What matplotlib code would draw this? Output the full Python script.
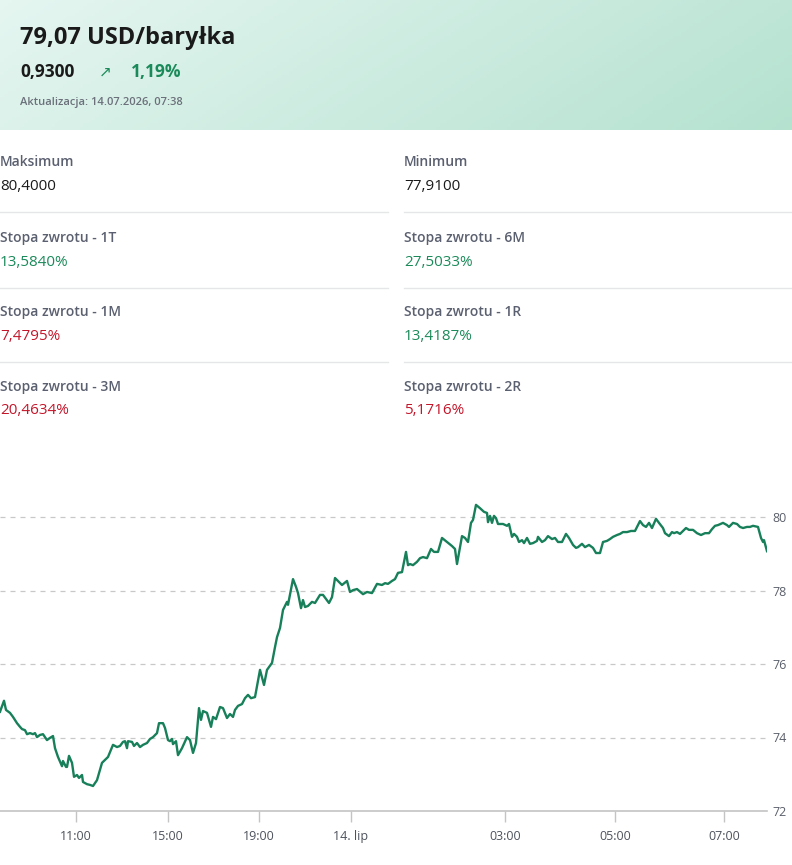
import numpy as np
import matplotlib
matplotlib.use("Agg")
import matplotlib.pyplot as plt

plt.rcParams['font.family'] = ['Open Sans', 'DejaVu Sans']

# naglowek
tytul = "79,07 USD/baryłka"
zmiana_abs = "0,9300"
zmiana_proc = "1,19%"
aktualizacja = "Aktualizacja: 14.07.2026, 07:38"

# statystyki (etykieta, wartosc, kolor)
stat_lewe = [("Maksimum", "80,4000", "black"),
             ("Stopa zwrotu - 1T", "13,5840%", "green"),
             ("Stopa zwrotu - 1M", "7,4795%", "red"),
             ("Stopa zwrotu - 3M", "20,4634%", "red")]
stat_prawe = [("Minimum", "77,9100", "black"),
              ("Stopa zwrotu - 6M", "27,5033%", "green"),
              ("Stopa zwrotu - 1R", "13,4187%", "green"),
              ("Stopa zwrotu - 2R", "5,1716%", "red")]

# notowania - pozycja na osi (os porzadkowa) i cena
pozycja = [0, 4, 6, 10, 13, 17, 20, 22, 25, 27, 30, 33, 35, 37, 40, 43, 47, 50, 53, 55,
           58, 62, 63, 66, 67, 69, 72, 74, 77, 79, 82, 83, 87, 90, 93, 97, 100, 102, 105, 108,
           112, 113, 117, 120, 123, 125, 127, 128, 132, 134, 137, 140, 143, 147, 150, 153, 157, 159, 163, 165,
           168, 170, 172, 173, 176, 178, 182, 187, 190, 193, 196, 199, 201, 203, 207, 211, 213, 216, 220, 223,
           227, 230, 233, 235, 238, 242, 245, 248, 251, 255, 260, 264, 267, 272, 275, 277, 280, 283, 287, 288,
           293, 296, 298, 301, 303, 305, 308, 312, 315, 320, 323, 329, 332, 335, 342, 347, 350, 353, 357, 363,
           367, 372, 377, 382, 385, 388, 392, 395, 398, 402, 406, 408, 410, 413, 417, 420, 423, 427, 431, 434,
           438, 442, 447, 452, 455, 457, 462, 465, 468, 471, 473, 476, 480, 484, 487, 488, 490, 492, 494, 496,
           498, 503, 507, 509, 512, 514, 517, 519, 522, 524, 527, 530, 533, 537, 538, 542, 545, 548, 552, 555,
           558, 562, 566, 569, 573, 576, 578, 582, 585, 589, 593, 596, 600, 603, 607, 610, 613, 617, 620, 623,
           627, 631, 635, 640, 643, 646, 649, 652, 656, 659, 663, 665, 669, 672, 674, 677, 680, 683, 686, 689,
           693, 697, 701, 705, 709, 712, 715, 718, 723, 727, 729, 733, 737, 740, 743, 747, 750, 753, 758, 761,
           763, 764, 767]
cena = [74.70, 75.00, 74.75, 74.67, 74.56, 74.39, 74.29, 74.23, 74.20, 74.09, 74.12, 74.09, 74.12, 74.01, 74.07, 74.09, 73.93, 73.99, 74.04, 73.71,
        73.47, 73.22, 73.36, 73.20, 73.20, 73.50, 73.31, 72.93, 72.98, 72.90, 72.98, 72.79, 72.73, 72.71, 72.68, 72.84, 73.12, 73.31, 73.39, 73.47,
        73.74, 73.80, 73.74, 73.77, 73.88, 73.90, 73.71, 73.90, 73.88, 73.77, 73.85, 73.74, 73.80, 73.85, 73.96, 74.01, 74.12, 74.39, 74.39, 74.26,
        73.93, 73.90, 73.96, 73.82, 73.90, 73.52, 73.71, 74.01, 73.93, 73.58, 73.85, 74.80, 74.48, 74.72, 74.67, 74.29, 74.56, 74.50, 74.83, 74.80,
        74.53, 74.64, 74.56, 74.75, 74.86, 74.91, 75.07, 75.16, 75.07, 75.10, 75.84, 75.43, 75.84, 76.03, 76.46, 76.73, 76.98, 77.47, 77.69, 77.61,
        78.31, 78.10, 77.93, 77.52, 77.74, 77.55, 77.58, 77.69, 77.66, 77.88, 77.88, 77.66, 77.82, 78.34, 78.15, 78.26, 77.96, 78.01, 78.04, 77.90,
        77.96, 77.93, 78.18, 78.15, 78.20, 78.18, 78.26, 78.31, 78.48, 78.50, 79.05, 78.69, 78.72, 78.69, 78.78, 78.88, 78.91, 78.88, 79.13, 79.05,
        79.05, 79.43, 79.32, 79.21, 79.13, 78.72, 79.48, 79.43, 79.32, 79.84, 79.92, 80.33, 80.24, 80.14, 80.11, 79.86, 80.03, 79.84, 80.03, 79.97,
        79.81, 79.81, 79.76, 79.81, 79.46, 79.54, 79.46, 79.32, 79.37, 79.29, 79.43, 79.27, 79.29, 79.35, 79.46, 79.32, 79.37, 79.48, 79.40, 79.43,
        79.32, 79.32, 79.54, 79.43, 79.24, 79.16, 79.18, 79.27, 79.18, 79.24, 79.16, 79.02, 79.02, 79.32, 79.35, 79.40, 79.46, 79.51, 79.54, 79.59,
        79.59, 79.62, 79.62, 79.89, 79.78, 79.73, 79.84, 79.70, 79.95, 79.84, 79.70, 79.56, 79.48, 79.59, 79.56, 79.59, 79.54, 79.62, 79.70, 79.65,
        79.65, 79.56, 79.51, 79.56, 79.56, 79.67, 79.76, 79.78, 79.84, 79.78, 79.73, 79.84, 79.81, 79.73, 79.70, 79.73, 79.73, 79.76, 79.73, 79.43,
        79.32, 79.37, 79.07]

x_etykiety = ["11:00", "15:00", "19:00", "14. lip", "03:00", "05:00", "07:00"]
x_pozycje = [76, 168, 259, 351, 505, 615, 724]
y_ticki = [72, 74, 76, 78, 80]

W, H = 792, 865
ZIELONY = '#1b8a5a'
CZERWONY = '#c4162a'
SZARY = '#5b6070'
LINIA = '#17805a'
kolory = {"black": '#1a1a1a', "green": ZIELONY, "red": CZERWONY}


def fx(px):
    return px / W


def fy(py):
    return 1 - py / H


fig = plt.figure(figsize=(W / 100, H / 100), dpi=100)

# tlo naglowka - gradient
ax_bg = fig.add_axes([0, fy(130), 1, 130 / H])
gx = np.linspace(0, 1, 200)
gy = np.linspace(0, 1, 40)
GX, GY = np.meshgrid(gx, gy)
t = np.clip(0.8 * GX + 0.2 * GY, 0, 1)
c0 = np.array([0.90, 0.965, 0.945])
c1 = np.array([0.71, 0.885, 0.815])
img = c0[None, None, :] * (1 - t[..., None]) + c1[None, None, :] * t[..., None]
ax_bg.imshow(img, aspect='auto', extent=[0, 1, 0, 1], origin='upper')
ax_bg.axis('off')

fig.text(fx(20), fy(38), tytul, fontsize=17, fontweight='bold', color='#1a1a1a', va='center')
fig.text(fx(20), fy(72), zmiana_abs, fontsize=12.5, fontweight='bold', color='#1a1a1a', va='center')
fig.text(fx(99), fy(72), "\u2197", fontsize=11, color=ZIELONY, va='center', family=['DejaVu Sans'])
fig.text(fx(131), fy(72), zmiana_proc, fontsize=12.5, fontweight='bold', color=ZIELONY, va='center')
fig.text(fx(20), fy(102), aktualizacja, fontsize=8, fontweight='semibold', color='#6b707a', va='center')

# statystyki
wiersze_y = [162, 238, 312, 387]
for kol_x, linia_x, dane in [(0, (0, 388), stat_lewe), (404, (404, 792), stat_prawe)]:
    for i, (etyk, wart, kol) in enumerate(dane):
        y0 = wiersze_y[i]
        fig.text(fx(kol_x), fy(y0), etyk, fontsize=10, fontweight='semibold', color=SZARY, va='center')
        fig.text(fx(kol_x), fy(y0 + 24), wart, fontsize=11, fontweight='medium', color=kolory[kol], va='center')
        if i < len(dane) - 1:
            sep = y0 + 50
            fig.add_artist(plt.Line2D([fx(linia_x[0]), fx(linia_x[1])], [fy(sep), fy(sep)],
                                      transform=fig.transFigure, color='#e4e6e8', lw=1))

# wykres
y_min, y_max = 72, 80.6
px_na_jedn = 36.75
top_px = 811 - (y_max - y_min) * px_na_jedn
ax = fig.add_axes([0, fy(811), fx(767), (811 - top_px) / H])
ax.plot(pozycja, cena, color=LINIA, lw=1.7, solid_joinstyle='round')
ax.set_xlim(0, 767)
ax.set_ylim(y_min, y_max)

for v in y_ticki[1:]:
    ax.axhline(v, color='#c8c8c8', lw=0.9, ls=(0, (4, 4)), zorder=0)

for s in ['top', 'left', 'right']:
    ax.spines[s].set_visible(False)
ax.spines['bottom'].set_color('#c4c4c4')
ax.spines['bottom'].set_linewidth(1.2)

ax.set_xticks(x_pozycje)
ax.set_xticklabels(x_etykiety)
ax.tick_params(axis='x', length=8, width=1, color='#c4c4c4', labelsize=9, labelcolor='#4d525c', pad=6)
ax.yaxis.tick_right()
ax.set_yticks(y_ticki)
ax.set_yticklabels([str(v) for v in y_ticki])
ax.tick_params(axis='y', length=0, labelsize=9, labelcolor='#5a5f6a', pad=4)
ax.patch.set_alpha(0)

fig.savefig("out.png", dpi=100)
